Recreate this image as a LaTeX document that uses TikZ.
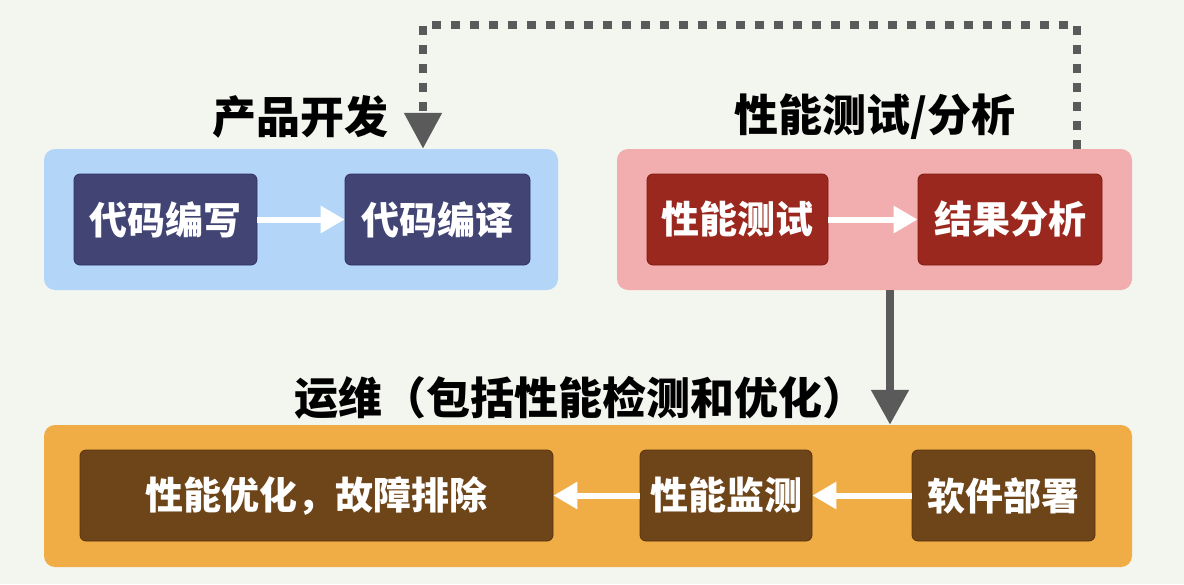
\documentclass[tikz,border=0pt]{standalone}
\usepackage{fontspec}
\setmainfont{Noto Sans CJK SC}
\usetikzlibrary{arrows.meta,calc}
\definecolor{bgc}{HTML}{F3F5EF}
\definecolor{bluecl}{HTML}{B3D6F8}
\definecolor{bluenode}{HTML}{424574}
\definecolor{blueedge}{HTML}{2E3163}
\definecolor{pinkcl}{HTML}{F2AEAE}
\definecolor{rednode}{HTML}{9B281F}
\definecolor{rededge}{HTML}{7E1810}
\definecolor{orangecl}{HTML}{F0AD46}
\definecolor{brownnode}{HTML}{6E4519}
\definecolor{brownedge}{HTML}{55330F}
\definecolor{grayarrow}{HTML}{5A5A5A}
\tikzset{
  cluster/.style={rectangle, rounded corners=11pt, draw=none, inner sep=0pt},
  stepbox/.style={rectangle, rounded corners=6pt, inner sep=0pt, minimum height=91pt,
     text=white, font=\fontsize{38pt}{44pt}\selectfont\bfseries, line width=0.8pt},
  cltitle/.style={font=\fontsize{44pt}{50pt}\selectfont\bfseries, text=black, inner sep=0pt},
  whitearrow/.style={draw=white, line width=6pt, -{Triangle[length=24pt,width=26pt]}},
  grayarrowstyle/.style={draw=grayarrow, line width=8pt, -{Triangle[length=35pt,width=36pt]}},
  dottedarrow/.style={draw=grayarrow, line width=8pt, dash pattern=on 9pt off 10pt,
     -{Triangle[length=36pt,width=36pt]}}
}
\begin{document}
\begin{tikzpicture}[x=1pt,y=-1pt]
\fill[bgc] (0,0) rectangle (1184,584);
\useasboundingbox (0,0) rectangle (1184,584);

% clusters
\node[cluster, fill=bluecl, minimum width=514pt, minimum height=141pt] (blue) at (301,219.5) {};
\node[cluster, fill=pinkcl, minimum width=515pt, minimum height=141pt] (pink) at (874.5,219.5) {};
\node[cluster, fill=orangecl, minimum width=1088pt, minimum height=142pt] (orange) at (588,496) {};

% titles
\node[cltitle] (t1) at (300,117) {产品开发};
\node[cltitle] (t2) at (875,117) {性能测试/分析};
\node[cltitle] (t3) at (580,398) {运维（包括性能检测和优化）};

% nodes
\node[stepbox, fill=bluenode, draw=blueedge, minimum width=183pt] (n1) at (165.5,219.5) {代码编写};
\node[stepbox, fill=bluenode, draw=blueedge, minimum width=185pt] (n2) at (437.5,219.5) {代码编译};
\node[stepbox, fill=rednode, draw=rededge, minimum width=181pt] (n3) at (737.5,219.5) {性能测试};
\node[stepbox, fill=rednode, draw=rededge, minimum width=184pt] (n4) at (1010,219.5) {结果分析};
\node[stepbox, fill=brownnode, draw=brownedge, minimum width=473pt] (n5) at (316.5,495.5) {性能优化，故障排除};
\node[stepbox, fill=brownnode, draw=brownedge, minimum width=172pt] (n6) at (726,495.5) {性能监测};
\node[stepbox, fill=brownnode, draw=brownedge, minimum width=183pt] (n7) at (1003.5,495.5) {软件部署};

% white arrows
\draw[whitearrow] (n1) -- (n2);
\draw[whitearrow] (n3) -- (n4);
\draw[whitearrow] (n7) -- (n6);
\draw[whitearrow] (n6) -- (n5);

% gray arrow
\coordinate (gx) at (890,0);
\draw[grayarrowstyle] (gx |- pink.south) -- (gx |- orange.north);

% dotted feedback
\coordinate (topR) at (1077,25);
\coordinate (topL) at (423,25);
\draw[dottedarrow] (topR |- pink.north) -- (topR) -- (topL) -- (topL |- blue.north);
\end{tikzpicture}
\end{document}
